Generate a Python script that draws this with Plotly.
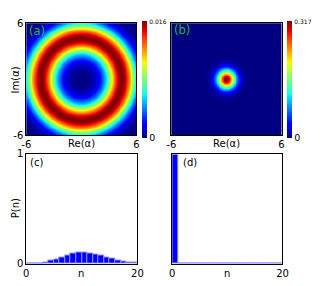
import numpy as np
import plotly.graph_objects as go
from math import factorial

# ---- data ----
n_vals = list(range(0, 21))
P_c = [0.0, 0.003, 0.006, 0.015, 0.026, 0.040, 0.058, 0.075, 0.090, 0.098, 0.098,
       0.093, 0.081, 0.070, 0.055, 0.043, 0.032, 0.023, 0.015, 0.012, 0.0]
P_d = [1.0] + [0.0] * 20
cbar_max_a = 0.016
cbar_max_b = 0.317
axis_ticks_alpha = [-6, 6]
axis_labels_alpha = ["-6", "6"]
axis_ticks_n = [0, 20]
axis_ticks_p = [0, 1]

W, H = 332, 286


def husimi(P, s, grid):
    X, Y = np.meshgrid(grid, grid)
    r2 = (X**2 + Y**2) / s**2
    Q = np.zeros_like(r2)
    for n, p in enumerate(P):
        if p > 0:
            Q += p * np.exp(-r2) * r2**n / factorial(n)
    return Q / (np.pi * s**2)


grid = np.linspace(-6, 6, 241)
Qa = husimi(P_c, np.sqrt(2), grid)
Qa = Qa / Qa.max() * cbar_max_a
Qb = husimi(P_d, 1.0, grid)


# matplotlib-like jet
def mpl_jet():
    r = [(0, 0), (0.35, 0), (0.66, 1), (0.89, 1), (1, 0.5)]
    g = [(0, 0), (0.125, 0), (0.375, 1), (0.64, 1), (0.91, 0), (1, 0)]
    b = [(0, 0.5), (0.11, 1), (0.34, 1), (0.65, 0), (1, 0)]
    stops = sorted(set([p for p, _ in r] + [p for p, _ in g] + [p for p, _ in b]))
    def ip(seg, t):
        return np.interp(t, [p for p, _ in seg], [v for _, v in seg])
    return [[t, "rgb(%d,%d,%d)" % (round(255 * ip(r, t)), round(255 * ip(g, t)), round(255 * ip(b, t)))]
            for t in stops]


jet = mpl_jet()


def px(x):
    return x / W


def py(y):
    return 1 - y / H


dom_a = ([px(22), px(136)], [py(135), py(18)])
dom_b = ([px(172), px(286)], [py(135), py(18)])
dom_c = ([px(22), px(137)], [py(269), py(154)])
dom_d = ([px(173), px(287)], [py(269), py(155)])

fig = go.Figure()


def cbar(x0, vmax):
    return dict(
        thickness=5, thicknessmode="pixels", len=117, lenmode="pixels",
        x=px(x0), xanchor="left", xpad=0, y=py(76.5), yanchor="middle", ypad=0,
        outlinewidth=0, ticks="", tickvals=[0, vmax],
        ticktext=["<span style='font-size:9.5px'>0</span>",
                  "<span style='font-size:6px'>%s</span>" % (("%.3f" % vmax))],
        tickfont=dict(size=9, family="DejaVu Sans", color="black"),
    )


fig.add_trace(go.Heatmap(z=Qa, x=grid, y=grid, colorscale=jet, zmin=0, zmax=cbar_max_a,
                         xaxis="x", yaxis="y", colorbar=cbar(142, cbar_max_a)))
fig.add_trace(go.Heatmap(z=Qb, x=grid, y=grid, colorscale=jet, zmin=0, zmax=cbar_max_b,
                         xaxis="x2", yaxis="y2", colorbar=cbar(292, cbar_max_b)))

fig.add_trace(go.Bar(x=n_vals, y=P_c, width=1, offset=0, xaxis="x3", yaxis="y3",
                     marker=dict(color="#0000ff", line=dict(color="#8c8cff", width=1)), showlegend=False))
fig.add_trace(go.Bar(x=n_vals, y=P_d, width=1, offset=0, xaxis="x4", yaxis="y4",
                     marker=dict(color="#0000ff", line=dict(color="#8c8cff", width=1)), showlegend=False))

frame = dict(showline=True, mirror=True, linecolor="black", linewidth=1, ticks="",
             showgrid=False, zeroline=False, tickfont=dict(size=10, color="black"))

fig.update_layout(
    width=W, height=H, margin=dict(l=0, r=0, t=0, b=0),
    paper_bgcolor="white", plot_bgcolor="white",
    font=dict(family="DejaVu Sans", size=10, color="black"),
    showlegend=False, bargap=0,
    xaxis=dict(domain=dom_a[0], range=[-6, 6], tickvals=axis_ticks_alpha, ticktext=axis_labels_alpha, anchor="y", **frame),
    yaxis=dict(domain=dom_a[1], range=[-6, 6], tickvals=axis_ticks_alpha, ticktext=axis_labels_alpha, anchor="x", **frame),
    xaxis2=dict(domain=dom_b[0], range=[-6, 6], tickvals=axis_ticks_alpha, ticktext=axis_labels_alpha, anchor="y2", **frame),
    yaxis2=dict(domain=dom_b[1], range=[-6, 6], showticklabels=False, anchor="x2", **frame),
    xaxis3=dict(domain=dom_c[0], range=[0, 20], tickvals=axis_ticks_n, anchor="y3", **frame),
    yaxis3=dict(domain=dom_c[1], range=[0, 1], tickvals=axis_ticks_p, anchor="x3", **frame),
    xaxis4=dict(domain=dom_d[0], range=[0, 20], tickvals=axis_ticks_n, anchor="y4", **frame),
    yaxis4=dict(domain=dom_d[1], range=[0, 1], showticklabels=False, anchor="x4", **frame),
)


def ann(text, x, y, size=10, color="black", angle=0, xanchor="center"):
    fig.add_annotation(text=text, x=px(x), y=py(y), xref="paper", yref="paper", showarrow=False,
                       font=dict(size=size, color=color, family="DejaVu Sans"), textangle=angle,
                       xanchor=xanchor, yanchor="middle")


ann("Im(α)", 11, 77, angle=-90)
ann("Re(α)", 79, 143)
ann("Re(α)", 229, 143)
ann("P(n)", 10.5, 211, angle=-90)
ann("n", 79, 279)
ann("n", 230, 279)
ann("(a)", 23, 26, size=11.5, color="#1fbf1f", xanchor="left")
ann("(b)", 173, 25, size=11.5, color="#1fbf1f", xanchor="left")
ann("(c)", 24, 163, size=10, xanchor="left")
ann("(d)", 182, 163, size=10, xanchor="left")

fig.write_html("out.html", config={"displayModeBar": False},
               post_script="document.body.style.margin='0';document.body.style.overflow='hidden';")
